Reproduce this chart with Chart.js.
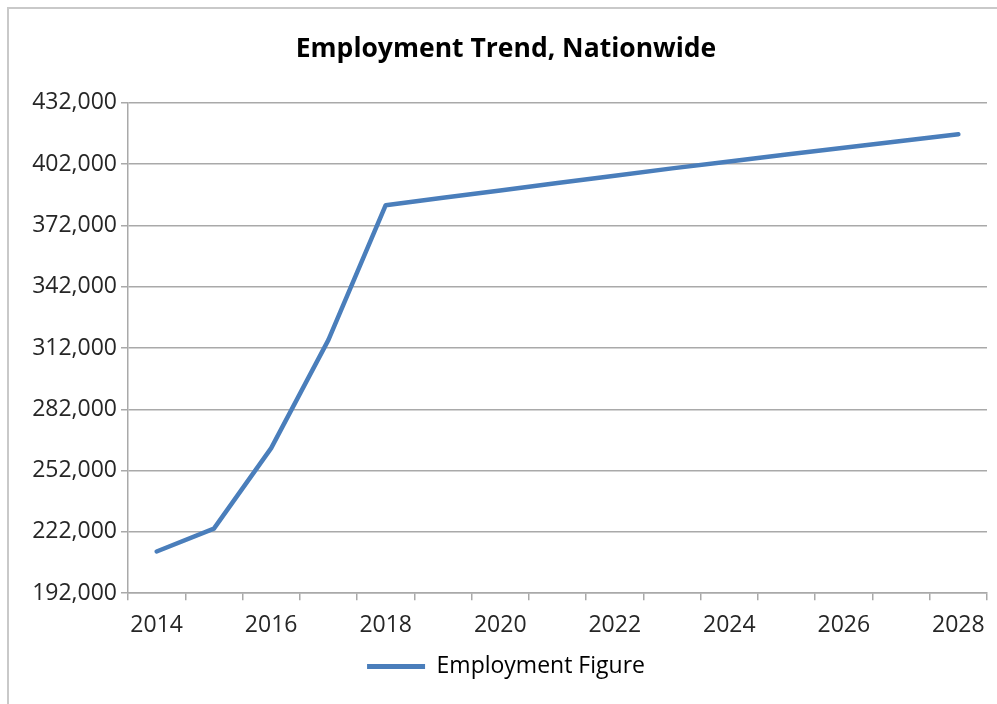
<!DOCTYPE html>
<html>
<head>
<meta charset="utf-8">
<title>Employment Trend, Nationwide</title>
<script src="https://cdn.jsdelivr.net/npm/chart.js@4.4.1/dist/chart.umd.min.js"></script>
<style>
  html, body { margin: 0; padding: 0; background: #ffffff; overflow: hidden; }
  body { width: 997px; height: 704px; position: relative; }
  #frame {
    position: absolute; left: 7px; top: 7px;
    width: 998px; height: 720px;
    border-left: 2px solid #c9c9c9; border-top: 2px solid #c9c9c9;
    box-sizing: border-box;
  }
  #wrap { position: absolute; left: 9px; top: 9px; width: 996px; height: 695px; }
</style>
</head>
<body>
<div id="frame"></div>
<div id="wrap"><canvas id="chart" width="996" height="695"></canvas></div>
<script>
// Years on the category axis
const years = ['2014', '2015', '2016', '2017', '2018', '2019', '2020', '2021',
               '2022', '2023', '2024', '2025', '2026', '2027', '2028'];
// Employment figure per year
const employment = [212400, 223600, 263000, 316000, 381900, 385500, 389100, 392700,
                    396300, 399900, 403300, 406700, 410000, 413300, 416600];
// Value axis range and step
const yMin = 192000;
const yMax = 432000;
const yStep = 30000;

const seriesLabel = 'Employment Figure';
const chartTitle = 'Employment Trend, Nationwide';

const FONT = "'Open Sans', 'Liberation Sans', sans-serif";
const BLUE = '#4a7ebb';
const GRID = '#a9a9a9';

new Chart(document.getElementById('chart'), {
  type: 'line',
  data: {
    labels: years,
    datasets: [{
      label: seriesLabel,
      data: employment,
      borderColor: BLUE,
      backgroundColor: BLUE,
      borderWidth: 4.5,
      borderCapStyle: 'round',
      borderJoinStyle: 'round',
      pointRadius: 0,
      pointHoverRadius: 0,
      tension: 0,
      fill: false
    }]
  },
  options: {
    responsive: false,
    animation: false,
    devicePixelRatio: 1,
    layout: { padding: { left: 16, right: 18, top: 0, bottom: 16 } },
    plugins: {
      tooltip: { enabled: false },
      title: {
        display: true,
        text: chartTitle,
        color: '#000000',
        font: { family: FONT, size: 26.5, weight: 'bold', lineHeight: 1.2 },
        padding: { top: 25, bottom: 37 }
      },
      legend: {
        display: true,
        position: 'bottom',
        labels: {
          color: '#262626',
          font: { family: FONT, size: 23 },
          boxWidth: 58,
          boxHeight: 5,
          padding: 14,
          generateLabels: (chart) => chart.data.datasets.map((ds, i) => ({
            text: ds.label,
            fillStyle: ds.borderColor,
            strokeStyle: ds.borderColor,
            lineWidth: 0,
            hidden: false,
            datasetIndex: i
          }))
        }
      }
    },
    scales: {
      x: {
        type: 'category',
        offset: true,
        afterFit: (scale) => { scale.height = 47.8; },
        grid: {
          offset: true,
          drawOnChartArea: false,
          drawTicks: true,
          tickLength: 7,
          color: GRID,
          lineWidth: 1.5
        },
        border: { display: true, color: GRID, width: 1.5 },
        ticks: {
          autoSkip: false,
          maxRotation: 0,
          minRotation: 0,
          padding: 11.5,
          color: '#262626',
          font: { family: FONT, size: 23 },
          callback: function (value, index) {
            return index % 2 === 0 ? this.getLabelForValue(value) : '';
          }
        }
      },
      y: {
        min: yMin,
        max: yMax,
        afterFit: (scale) => { scale.width = 103; },
        grid: {
          drawOnChartArea: true,
          drawTicks: true,
          tickLength: 7,
          color: GRID,
          lineWidth: 1.5
        },
        border: { display: true, color: GRID, width: 1.5 },
        ticks: {
          stepSize: yStep,
          padding: 4,
          color: '#262626',
          font: { family: FONT, size: 23 },
          callback: (v) => v.toLocaleString('en-US')
        }
      }
    }
  }
});
</script>
</body>
</html>
